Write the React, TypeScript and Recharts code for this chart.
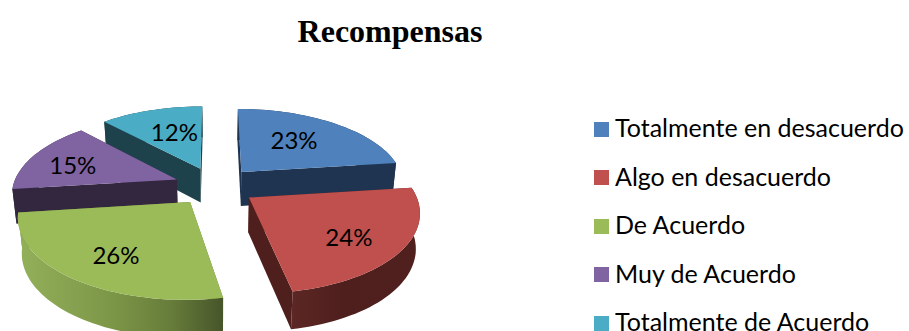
import React from "react";
import { PieChart, Pie, Legend } from "recharts";

const categories = [
  "Totalmente en desacuerdo",
  "Algo en desacuerdo",
  "De Acuerdo",
  "Muy de Acuerdo",
  "Totalmente de Acuerdo",
];
const shares = [23, 24, 26, 15, 12];
const topColors = ["#4f81bd", "#c0504d", "#9bbb59", "#8064a2", "#4bacc6"];
const wallColors = ["#1f3450", "#4f1f1d", "#66803a", "#33263f", "#1d424c"];
const arcWallFills = ["#1f3450", "url(#redWall)", "url(#greenWall)", "#33263f", "#1d424c"];
// where each percentage sits on its slice: share of the radius, degrees off the middle
const labelReach = [0.584, 0.71, 0.707, 0.69, 0.57];
const labelSwing = [-2.7, 5, -3.3, -5, 2.6];
// back slices are painted first so the front ones cover their walls
const paintOrder = [4, 3, 0, 2, 1];

const rows = categories.map((name, i) => ({ name, value: shares[i], fill: topColors[i] }));

const SQUASH = 0.469; // vertical scale of the tilted disc
const PERSPECTIVE = 0.156;
const EXPLODE = 0.25;
const DEPTH = 34.5;
const FONT = "Lato, 'Open Sans', sans-serif";

const rad = (deg: number) => (deg * Math.PI) / 180;

// disc coordinates (radius 1, v pointing at the viewer) to screen coordinates
const project = (cx: number, cy: number, radius: number, u: number, v: number) => {
  const w = 1 - PERSPECTIVE * v;
  return { x: cx + (radius * u) / w, y: cy + (radius * SQUASH * v) / w };
};

const drop = (cx: number, v: number, p: { x: number; y: number }) => ({
  x: cx + (p.x - cx) * 0.98,
  y: p.y + DEPTH + 3 * v,
});

const toPath = (pts: { x: number; y: number }[]) =>
  "M" + pts.map((p) => `${p.x.toFixed(1)},${p.y.toFixed(1)}`).join("L") + "Z";

const slicePoints = (props: any) => {
  const { cx, cy, outerRadius, startAngle, endAngle } = props;
  const mid = (startAngle + endAngle) / 2;
  const ou = EXPLODE * Math.cos(rad(mid));
  const ov = -EXPLODE * Math.sin(rad(mid));
  const steps = Math.max(4, Math.ceil(Math.abs(endAngle - startAngle) / 2));
  const arc = [];
  for (let i = 0; i <= steps; i++) {
    const a = rad(startAngle + ((endAngle - startAngle) * i) / steps);
    const u = ou + Math.cos(a);
    const v = ov - Math.sin(a);
    const top = project(cx, cy, outerRadius, u, v);
    arc.push({ top, bottom: drop(cx, v, top) });
  }
  const apexTop = project(cx, cy, outerRadius, ou, ov);
  return { arc, apexTop, apexBottom: drop(cx, ov, apexTop) };
};

const makeSliceShape = (slice: number) => (props: any) => {
  if (categories.indexOf(props.name) !== slice) return <g />;
  const { arc, apexTop, apexBottom } = slicePoints(props);
  const first = arc[0];
  const last = arc[arc.length - 1];
  return (
    <g>
      <path d={toPath([first.top, apexTop, apexBottom, first.bottom])} fill={wallColors[slice]} />
      <path d={toPath([last.top, apexTop, apexBottom, last.bottom])} fill={wallColors[slice]} />
      <path
        d={toPath([...arc.map((p) => p.top), ...arc.map((p) => p.bottom).reverse()])}
        fill={arcWallFills[slice]}
      />
      <path d={toPath([apexTop, ...arc.map((p) => p.top)])} fill={topColors[slice]} />
    </g>
  );
};

const makeSliceLabel = (slice: number) => (props: any) => {
  if (props.index !== slice) return <g />;
  const { cx, cy, outerRadius, midAngle, percent } = props;
  const reach = labelReach[slice];
  const spot = midAngle - labelSwing[slice];
  const u = EXPLODE * Math.cos(rad(midAngle)) + reach * Math.cos(rad(spot));
  const v = -EXPLODE * Math.sin(rad(midAngle)) - reach * Math.sin(rad(spot));
  const p = project(cx, cy, outerRadius, u, v);
  return (
    <text
      x={p.x}
      y={p.y - 2}
      textAnchor="middle"
      dominantBaseline="central"
      fontFamily={FONT}
      fontSize={24}
      fill="#000"
    >
      {`${Math.round(percent * 100)}%`}
    </text>
  );
};

const LegendList = () => (
  <div style={{ fontFamily: FONT, fontSize: 25, lineHeight: "30px", color: "#000" }}>
    {categories.map((name, i) => (
      <div key={name} style={{ display: "flex", alignItems: "center", height: 48.5, whiteSpace: "nowrap" }}>
        <span style={{ width: 15, height: 15, flexShrink: 0, background: topColors[i], marginRight: 6 }} />
        <span style={{ position: "relative", top: -2 }}>{name}</span>
      </div>
    ))}
  </div>
);

export default function App() {
  return (
    <div style={{ position: "absolute", left: 0, top: 0, width: 909, height: 331, overflow: "hidden", background: "#fff" }}>
      <PieChart width={909} height={331} margin={{ top: 0, right: 0, bottom: 0, left: 0 }}>
        <defs>
          <linearGradient id="greenWall" x1="0" y1="0" x2="1" y2="0">
            <stop offset="0" stopColor="#93b05a" />
            <stop offset="0.45" stopColor="#7d9748" />
            <stop offset="0.75" stopColor="#667c3a" />
            <stop offset="1" stopColor="#47552a" />
          </linearGradient>
          <linearGradient id="redWall" x1="0" y1="0" x2="1" y2="0">
            <stop offset="0" stopColor="#5c2725" />
            <stop offset="0.4" stopColor="#4f1f1d" />
            <stop offset="1" stopColor="#4f201e" />
          </linearGradient>
        </defs>
        <text
          x={390}
          y={42}
          textAnchor="middle"
          fontFamily="'Liberation Serif', serif"
          fontWeight="bold"
          fontSize={32}
          fill="#000"
        >
          Recompensas
        </text>
        {paintOrder.map((slice) => (
          <Pie
            key={slice}
            data={rows}
            dataKey="value"
            nameKey="name"
            cx={215}
            cy={186}
            outerRadius={164}
            startAngle={90}
            endAngle={-270}
            paddingAngle={0}
            stroke="none"
            legendType="none"
            isAnimationActive={false}
            shape={makeSliceShape(slice)}
            label={makeSliceLabel(slice)}
            labelLine={false}
          />
        ))}
        <Legend
          layout="vertical"
          align="right"
          verticalAlign="top"
          wrapperStyle={{ left: 594, top: 105, width: 315 }}
          content={() => <LegendList />}
        />
      </PieChart>
    </div>
  );
}
